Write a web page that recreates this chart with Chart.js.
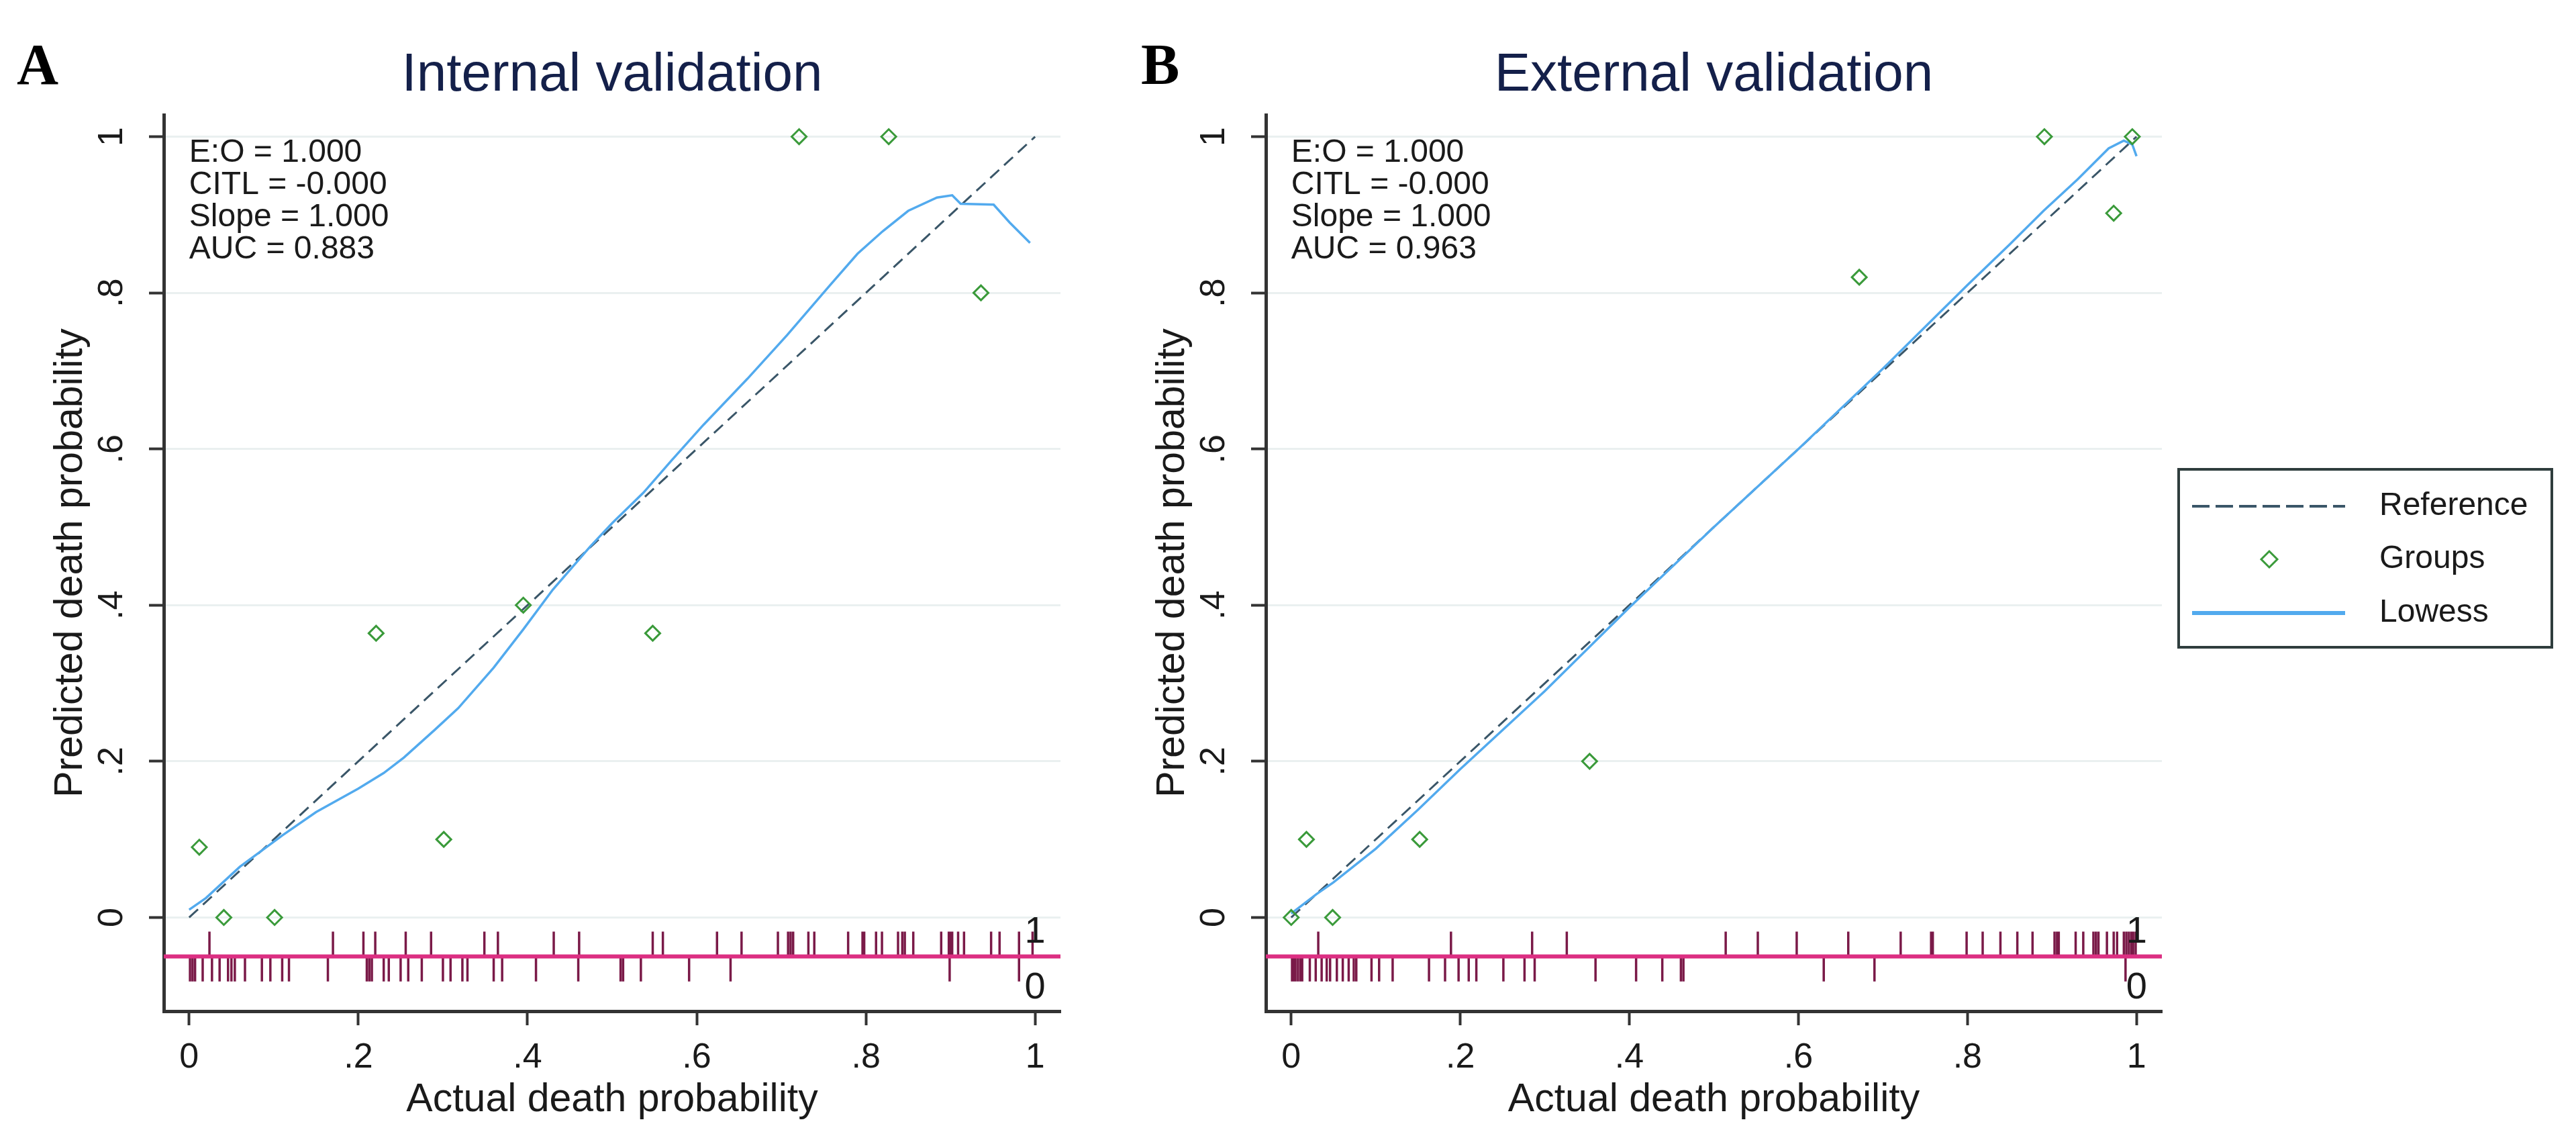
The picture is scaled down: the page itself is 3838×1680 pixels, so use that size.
<!DOCTYPE html>
<html lang="en">
<head>
<meta charset="UTF-8">
<title>Calibration plots</title>
<script src="https://cdn.jsdelivr.net/npm/chart.js@4.4.0/dist/chart.umd.min.js"></script>
<style>
  html, body { margin: 0; padding: 0; background: #fff; }
  body { width: 3838px; height: 1680px; position: relative; overflow: hidden; }
  canvas { position: absolute; top: 0; }
  #chartInt { left: 0; }
  #chartExt { left: 1640px; }
</style>
</head>
<body>
<canvas id="chartInt" width="1640" height="1680"></canvas>
<canvas id="chartExt" width="2198" height="1680"></canvas>
<script>
// axes
const axisTicks = [0, 0.2, 0.4, 0.6, 0.8, 1];
const xRange = [-0.03, 1.03];
const yRange = [-0.12, 1.028];

// reference (perfect calibration) line
const refX = [0, 1];
const refY = [0, 1];

// rug: base line and tick ends, labels
const rugBase = -0.05;
const rugTop = -0.018;
const rugBottom = -0.082;
const rugLabelX = 1;
const rugLabelHi = -0.019;
const rugLabelLo = -0.090;
const statsTopY = 0.979;

// internal validation
const intStats = ['E:O = 1.000', 'CITL = -0.000', 'Slope = 1.000', 'AUC = 0.883'];
const intGroupX = [0.012, 0.041, 0.101, 0.221, 0.301, 0.395, 0.548, 0.721, 0.827, 0.936];
const intGroupY = [0.090, 0.000, 0.000, 0.364, 0.100, 0.400, 0.364, 1.000, 1.000, 0.800];
const intLowessX = [0.0, 0.02, 0.04, 0.06, 0.085, 0.11, 0.15, 0.2, 0.23, 0.254, 0.29, 0.318, 0.36, 0.395, 0.43, 0.474, 0.5, 0.537, 0.57, 0.608, 0.66, 0.707, 0.757, 0.79, 0.82, 0.85, 0.884, 0.902, 0.912, 0.951, 0.97, 0.994];
const intLowessY = [0.01, 0.025, 0.045, 0.065, 0.085, 0.105, 0.135, 0.165, 0.185, 0.205, 0.24, 0.268, 0.32, 0.369, 0.42, 0.475, 0.505, 0.544, 0.585, 0.631, 0.69, 0.746, 0.809, 0.85, 0.879, 0.905, 0.922, 0.925, 0.914, 0.913, 0.89, 0.864];
const intRugEvents = [0.024, 0.170, 0.206, 0.220, 0.256, 0.286, 0.349, 0.365, 0.431, 0.461, 0.548, 0.560, 0.624, 0.653, 0.696, 0.708, 0.711, 0.714, 0.732, 0.739, 0.779, 0.796, 0.798, 0.812, 0.819, 0.838, 0.843, 0.846, 0.856, 0.889, 0.898, 0.900, 0.902, 0.909, 0.916, 0.948, 0.958, 0.981, 0.997];
const intRugNonEvents = [0.001, 0.004, 0.007, 0.016, 0.027, 0.036, 0.046, 0.050, 0.054, 0.066, 0.086, 0.096, 0.110, 0.118, 0.164, 0.210, 0.213, 0.216, 0.230, 0.236, 0.250, 0.259, 0.275, 0.300, 0.309, 0.323, 0.329, 0.360, 0.370, 0.410, 0.460, 0.510, 0.513, 0.534, 0.591, 0.640, 0.899, 0.981];

// external validation
const extStats = ['E:O = 1.000', 'CITL = -0.000', 'Slope = 1.000', 'AUC = 0.963'];
const extGroupX = [0.000, 0.018, 0.049, 0.152, 0.353, 0.672, 0.891, 0.973, 0.995];
const extGroupY = [0.000, 0.100, 0.000, 0.100, 0.200, 0.820, 1.000, 0.902, 1.000];
const extLowessX = [0.0, 0.03, 0.05, 0.1, 0.15, 0.2, 0.3, 0.4, 0.5, 0.6, 0.7, 0.8, 0.85, 0.89, 0.93, 0.967, 0.985, 0.995, 1.0];
const extLowessY = [0.005, 0.03, 0.045, 0.088, 0.138, 0.19, 0.29, 0.397, 0.5, 0.6, 0.703, 0.81, 0.862, 0.905, 0.945, 0.985, 0.995, 0.99, 0.975];
const extRugEvents = [0.032, 0.189, 0.285, 0.326, 0.514, 0.552, 0.598, 0.659, 0.721, 0.757, 0.759, 0.799, 0.818, 0.839, 0.859, 0.877, 0.903, 0.906, 0.908, 0.928, 0.937, 0.949, 0.952, 0.955, 0.965, 0.973, 0.977, 0.985, 0.988, 0.991, 0.994, 0.996, 0.999];
const extRugNonEvents = [0.001, 0.003, 0.005, 0.008, 0.011, 0.013, 0.022, 0.029, 0.036, 0.042, 0.046, 0.054, 0.061, 0.068, 0.074, 0.077, 0.095, 0.104, 0.120, 0.163, 0.182, 0.198, 0.210, 0.219, 0.251, 0.276, 0.288, 0.360, 0.408, 0.439, 0.461, 0.464, 0.630, 0.690, 0.987];

const FONT = '"Liberation Sans", Arial, sans-serif';
Chart.defaults.font.family = FONT;
Chart.defaults.color = '#1a1a1a';

const pairs = (xs, ys) => xs.map((x, i) => ({x, y: ys[i]}));
// each rug tick is a two-point segment, separated by a gap
const rugSegments = (xs, yEnd) => xs.flatMap(x => [{x, y: rugBase}, {x, y: yEnd}, {x, y: null}]);
const tickText = v => (v === 0 ? '0' : v === 1 ? '1' : String(+v.toFixed(1)).replace(/^0/, ''));

// title, panel letter, stats box and 0/1 rug labels
const panelDecor = {
  id: 'panelDecor',
  afterDraw(chart, args, o) {
    const {ctx, chartArea: a, scales: {x, y}} = chart;
    ctx.save();
    ctx.fillStyle = '#14204a';
    ctx.font = '80px ' + FONT;
    ctx.textAlign = 'center';
    ctx.textBaseline = 'alphabetic';
    ctx.fillText(o.title, (a.left + a.right) / 2, 135);

    ctx.fillStyle = '#000';
    ctx.font = 'bold 86px "Liberation Serif", "Times New Roman", serif';
    ctx.textAlign = 'left';
    ctx.fillText(o.letter, o.letterX, 125);

    ctx.fillStyle = '#1a1a1a';
    ctx.font = '48px ' + FONT;
    ctx.textBaseline = 'middle';
    o.stats.forEach((s, i) => ctx.fillText(s, x.getPixelForValue(0), y.getPixelForValue(statsTopY) + i * 48));

    ctx.font = '56px ' + FONT;
    ctx.textAlign = 'center';
    ctx.fillText('1', x.getPixelForValue(rugLabelX), y.getPixelForValue(rugLabelHi));
    ctx.fillText('0', x.getPixelForValue(rugLabelX), y.getPixelForValue(rugLabelLo));
    ctx.restore();
  }
};

// boxed legend to the right of the external panel
const boxLegend = {
  id: 'boxLegend',
  afterDraw(chart, args, o) {
    if (!o.show) return;
    const {ctx, chartArea: a} = chart;
    const left = a.right + 25, top = 699, w = 556, h = 265;
    const rows = [55, 134, 214];
    const items = chart.data.datasets.filter(d => d.legendRank !== undefined)
      .sort((p, q) => p.legendRank - q.legendRank);
    ctx.save();
    ctx.strokeStyle = '#2f3d3d';
    ctx.lineWidth = 4;
    ctx.strokeRect(left, top, w, h);
    items.forEach((d, i) => {
      const cy = top + rows[i];
      ctx.save();
      ctx.strokeStyle = d.borderColor;
      if (d.pointStyle === 'rectRot') {
        const cx = left + 135, r = 12;
        ctx.lineWidth = 3;
        ctx.beginPath();
        ctx.moveTo(cx - r, cy); ctx.lineTo(cx, cy - r);
        ctx.lineTo(cx + r, cy); ctx.lineTo(cx, cy + r);
        ctx.closePath();
        ctx.stroke();
      } else {
        ctx.lineWidth = d.borderDash ? 4 : 6;
        ctx.setLineDash(d.borderDash ? [26, 9] : []);
        ctx.beginPath();
        ctx.moveTo(left + 20, cy); ctx.lineTo(left + 248, cy);
        ctx.stroke();
      }
      ctx.restore();
      ctx.fillStyle = '#1a1a1a';
      ctx.font = '48px ' + FONT;
      ctx.textAlign = 'left';
      ctx.textBaseline = 'middle';
      ctx.fillText(d.label, left + 299, cy);
    });
    ctx.restore();
  }
};

function buildDatasets(p) {
  return [
    { label: 'Reference', data: pairs(refX, refY), showLine: true, borderColor: '#3a5668', borderWidth: 3,
      borderDash: [18, 10], pointRadius: 0, order: 6, legendRank: 0 },
    { label: 'Lowess', data: pairs(p.lowX, p.lowY), showLine: true, borderColor: '#52aaee', borderWidth: 3.5,
      pointRadius: 0, order: 5, legendRank: 2 },
    { label: 'Groups', data: pairs(p.grpX, p.grpY), showLine: false, pointStyle: 'rectRot', pointRadius: 11,
      pointBorderWidth: 3, borderColor: '#3a9a3a', pointBorderColor: '#3a9a3a',
      pointBackgroundColor: 'rgba(255,255,255,0)', order: 4, legendRank: 1, clip: false },
    { label: 'Rug events', data: rugSegments(p.rugEv, rugTop), showLine: true, spanGaps: false,
      borderColor: '#7a1a48', borderWidth: 3.5, pointRadius: 0, order: 3 },
    { label: 'Rug non-events', data: rugSegments(p.rugNon, rugBottom), showLine: true, spanGaps: false,
      borderColor: '#7a1a48', borderWidth: 3.5, pointRadius: 0, order: 2 },
    { label: 'Rug axis', data: [{x: xRange[0], y: rugBase}, {x: xRange[1], y: rugBase}], showLine: true,
      borderColor: '#dc2f82', borderWidth: 6, pointRadius: 0, order: 1 }
  ];
}

function makeChart(id, p) {
  return new Chart(document.getElementById(id), {
    type: 'scatter',
    data: { datasets: buildDatasets(p) },
    options: {
      responsive: false,
      animation: false,
      devicePixelRatio: 1,
      events: [],
      layout: { padding: { left: p.padLeft, right: p.padRight, top: 171, bottom: 0 } },
      plugins: {
        legend: { display: false },
        tooltip: { enabled: false },
        title: { display: false },
        panelDecor: { title: p.title, letter: p.letter, letterX: p.letterX, stats: p.stats },
        boxLegend: { show: p.legend }
      },
      scales: {
        x: {
          type: 'linear', min: xRange[0], max: xRange[1],
          afterBuildTicks: s => { s.ticks = axisTicks.map(v => ({value: v})); },
          afterFit: s => { s.height = 174; },
          ticks: { callback: tickText, font: { size: 52 }, padding: 17, autoSkip: false, maxRotation: 0, color: '#1a1a1a' },
          grid: { drawOnChartArea: false, drawTicks: true, tickLength: 21, tickWidth: 4, tickColor: '#333' },
          border: { display: true, color: '#333', width: 5 },
          title: { display: true, text: 'Actual death probability', font: { size: 59, lineHeight: 1 },
                   padding: { top: 0, bottom: 12 }, color: '#1a1a1a' }
        },
        y: {
          type: 'linear', min: yRange[0], max: yRange[1],
          afterBuildTicks: s => { s.ticks = axisTicks.map(v => ({value: v})); },
          afterFit: s => { s.width = 244; },
          ticks: { callback: tickText, font: { size: 52 }, padding: 33, minRotation: 90, maxRotation: 90,
                   crossAlign: 'center', color: '#1a1a1a' },
          grid: { color: '#eaf0f0', lineWidth: 3, drawTicks: true, tickLength: 22, tickWidth: 4, tickColor: '#333' },
          border: { display: true, color: '#333', width: 5 },
          title: { display: true, text: 'Predicted death probability', font: { size: 59, lineHeight: 1 },
                   padding: { top: 76, bottom: 0 }, color: '#1a1a1a' }
        }
      }
    },
    plugins: [panelDecor, boxLegend]
  });
}

makeChart('chartInt', {
  title: 'Internal validation', letter: 'A', letterX: 25, stats: intStats, legend: false,
  padLeft: 0, padRight: 60,
  grpX: intGroupX, grpY: intGroupY, lowX: intLowessX, lowY: intLowessY,
  rugEv: intRugEvents, rugNon: intRugNonEvents
});

makeChart('chartExt', {
  title: 'External validation', letter: 'B', letterX: 60, stats: extStats, legend: true,
  padLeft: 2, padRight: 617,
  grpX: extGroupX, grpY: extGroupY, lowX: extLowessX, lowY: extLowessY,
  rugEv: extRugEvents, rugNon: extRugNonEvents
});
</script>
</body>
</html>
